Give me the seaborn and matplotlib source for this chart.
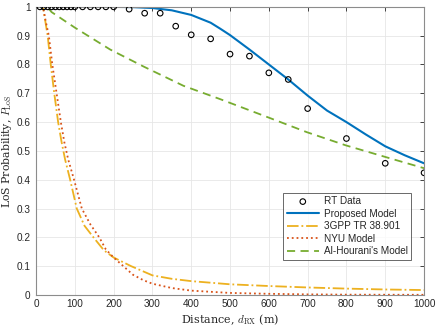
import matplotlib
matplotlib.use("Agg")
import matplotlib.pyplot as plt
import pandas as pd
import seaborn as sns

# RT data (measured points)
rt_d = [10, 20, 30, 40, 50, 60, 70, 80, 90, 100, 120, 140, 160, 180, 200,
        240, 280, 320, 360, 400, 450, 500, 550, 600, 650, 700, 800, 900, 1000]
rt_p = [1, 1, 1, 1, 1, 1, 1, 1, 1, 1, 1, 1, 1, 1, 1,
        0.992, 0.978, 0.978, 0.933, 0.903, 0.889, 0.836, 0.829, 0.771, 0.748,
        0.647, 0.543, 0.457, 0.424]

# proposed model
prop_d = [0, 100, 200, 250, 300, 350, 400, 450, 475, 500, 550, 600, 650, 700,
          750, 800, 850, 900, 950, 1000]
prop_p = [1, 1, 1, 0.999, 0.996, 0.988, 0.972, 0.945, 0.924, 0.902, 0.852,
          0.800, 0.748, 0.692, 0.640, 0.600, 0.557, 0.516, 0.485, 0.457]

# 3GPP TR 38.901
gpp_d = [0, 18, 24, 30, 38, 47, 57, 66, 75, 88, 105, 125, 148, 175, 200,
         245, 300, 350, 400, 500, 600, 700, 800, 900, 1000]
gpp_p = [1, 1, 0.95, 0.90, 0.80, 0.70, 0.60, 0.53, 0.47, 0.40, 0.30, 0.24,
         0.20, 0.155, 0.130, 0.100, 0.068, 0.056, 0.048, 0.037, 0.031,
         0.026, 0.022, 0.019, 0.017]

# NYU model
nyu_d = [0, 18, 25, 33, 42, 53, 64, 73, 83, 98, 118, 140, 163, 180, 200, 225,
         250, 277, 300, 350, 400, 500, 600, 700, 800, 900, 1000]
nyu_p = [1, 1, 0.95, 0.90, 0.80, 0.70, 0.60, 0.53, 0.47, 0.40, 0.30, 0.245,
         0.20, 0.158, 0.130, 0.100, 0.070, 0.051, 0.039, 0.024, 0.015, 0.007,
         0.004, 0.002, 0.001, 0.0007, 0.0005]

# Al-Hourani's model
alh_d = [0, 25, 35, 40, 100, 191, 277, 380, 474, 601, 698, 799, 918, 1000]
alh_p = [1, 1, 0.99, 0.982, 0.928, 0.852, 0.793, 0.726, 0.680, 0.615, 0.565,
         0.519, 0.472, 0.440]

x_ticks = list(range(0, 1001, 100))
y_ticks = [0, 0.1, 0.2, 0.3, 0.4, 0.5, 0.6, 0.7, 0.8, 0.9, 1]
y_labels = ["0", "0.1", "0.2", "0.3", "0.4", "0.5", "0.6", "0.7", "0.8", "0.9", "1"]

sns.set_style("whitegrid")
plt.rcParams["font.family"] = ["Liberation Sans", "DejaVu Sans"]
plt.rcParams["mathtext.fontset"] = "cm"

fig = plt.figure(figsize=(4.36, 3.27), dpi=100)
ax = fig.add_axes([0.0826, 0.098, 0.89, 0.881])

rt_df = pd.DataFrame({"d": rt_d, "p": rt_p})
sns.scatterplot(data=rt_df, x="d", y="p", ax=ax, marker="o", s=16,
                facecolors="none", edgecolor="black", linewidth=0.8,
                label="RT Data", zorder=5)
sns.lineplot(x=prop_d, y=prop_p, ax=ax, color="#0072BD", linewidth=1.5,
             label="Proposed Model", estimator=None, sort=False)
sns.lineplot(x=gpp_d, y=gpp_p, ax=ax, color="#EDB120", linewidth=1.3,
             linestyle="-.", label="3GPP TR 38.901", estimator=None, sort=False)
sns.lineplot(x=nyu_d, y=nyu_p, ax=ax, color="#D95319", linewidth=1.3,
             linestyle=":", label="NYU Model", estimator=None, sort=False)
sns.lineplot(x=alh_d, y=alh_p, ax=ax, color="#77AC30", linewidth=1.3,
             linestyle=(0, (4.5, 3)), label="Al-Hourani's Model",
             estimator=None, sort=False)

ax.set_xlim(0, 1000)
ax.set_ylim(0, 1)
ax.set_xticks(x_ticks)
ax.set_yticks(y_ticks)
ax.set_yticklabels(y_labels)
ax.tick_params(direction="in", length=3, width=0.6, colors="#262626",
               labelsize=7.2, top=True, right=True, pad=3)
ax.tick_params(axis="y", pad=4)
for sp in ax.spines.values():
    sp.set_color("#8c8c8c")
    sp.set_linewidth(0.8)
ax.grid(True, color="#e6e6e6", linewidth=0.6)

ax.set_xlabel(r"Distance, $d_{\rm RX}$ (m)", family="serif", fontsize=8,
              labelpad=2)
ax.set_ylabel(r"LoS Probability, $P_{\rm LoS}$", family="serif", fontsize=7.8)
ax.yaxis.set_label_coords(-0.057, 0.5)

leg = ax.legend(loc="lower right", bbox_to_anchor=(0.98, 0.105), fontsize=7.2,
                frameon=True, fancybox=False, handlelength=3.2,
                borderpad=0.35, labelspacing=0.25, handletextpad=0.5)
leg.get_frame().set_edgecolor("#262626")
leg.get_frame().set_linewidth(0.6)

fig.savefig("out.png", dpi=100)
